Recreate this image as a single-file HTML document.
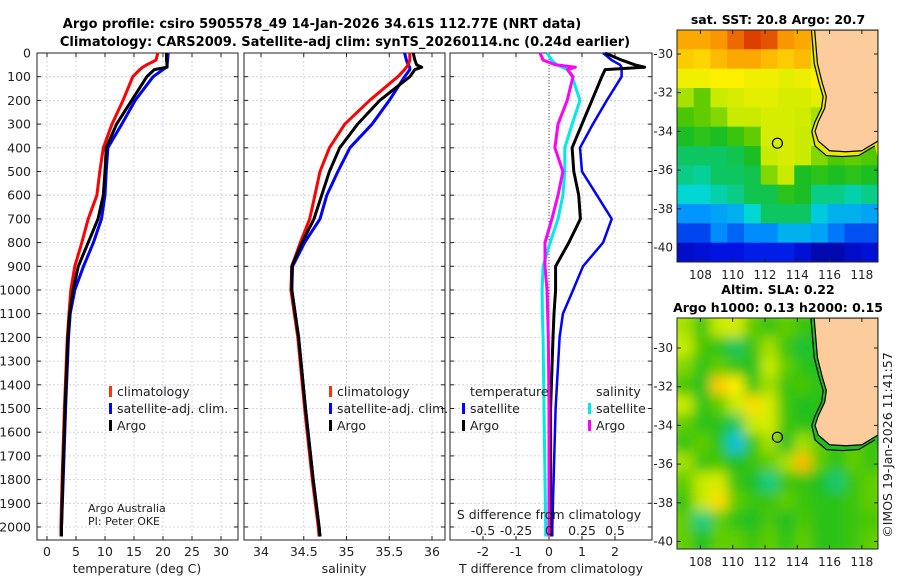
<!DOCTYPE html>
<html><head><meta charset="utf-8"><style>
body{margin:0;background:#fff;}
svg{display:block;font-family:"DejaVu Sans","Liberation Sans",sans-serif;}
</style></head><body>
<svg id="fig" width="900" height="580" viewBox="0 0 900 580" xmlns="http://www.w3.org/2000/svg">
<rect width="900" height="580" fill="#fff"/>
<text x="322" y="28" font-size="13" font-weight="bold" text-anchor="middle">Argo profile: csiro 5905578_49 14-Jan-2026 34.61S 112.77E (NRT data)</text>
<text x="345" y="46" font-size="13" font-weight="bold" text-anchor="middle">Climatology: CARS2009. Satellite-adj clim: synTS_20260114.nc (0.24d earlier)</text>
<g id="layer"></g>
</svg>
<script>
// ---------- data ----------
const depthTicks=[0,100,200,300,400,500,600,700,800,900,1000,1100,1200,1300,1400,1500,1600,1700,1800,1900,2000];
const tTicks=[0,5,10,15,20,25,30];
const sTicks=[34,34.5,35,35.5,36];
const dTicks=[-2,-1,0,1,2];
const sdTicks=[-0.5,-0.25,0,0.25,0.5];
const sdLabels=["-0.5","-0.25","0","0.25","0.5"];
const profDepth=[0,30,50,60,70,100,200,300,400,500,600,700,800,900,1000,1100,1200,1500,1800,2000,2040];
const tClim=[19.1,18.8,17.2,16.5,16.0,14.8,13.1,11.2,9.7,9.1,8.6,7.1,6.0,4.8,4.1,3.8,3.5,3.0,2.6,2.4,2.4];
const tSat=[20.9,20.8,20.7,20.6,20.0,18.3,15.2,12.9,10.5,10.2,10.0,9.4,8.0,6.3,4.8,4.0,3.7,3.2,2.8,2.5,2.5];
const tArgo=[20.6,20.6,20.7,20.7,18.5,17.2,14.6,12.0,10.2,10.0,9.7,8.8,7.1,5.4,4.5,3.9,3.6,3.1,2.7,2.5,2.5];
const sClim=[35.74,35.74,35.72,35.7,35.68,35.6,35.27,34.98,34.8,34.69,34.63,34.57,34.46,34.36,34.35,34.39,34.43,34.51,34.6,34.67,34.68];
const sSat=[35.68,35.7,35.72,35.74,35.74,35.68,35.5,35.3,35.04,34.9,34.77,34.69,34.51,34.37,34.36,34.4,34.44,34.52,34.61,34.68,34.69];
const sArgo=[35.78,35.8,35.82,35.88,35.8,35.74,35.39,35.13,34.92,34.8,34.71,34.62,34.48,34.36,34.36,34.4,34.44,34.52,34.61,34.68,34.69];
const dTSat=[1.64,1.9,2.15,2.2,2.2,2.2,1.75,1.33,0.94,1.0,1.45,1.9,1.64,1.03,0.73,0.42,0.32,0.2,0.14,0.1,0.1];
const dTArgo=[1.7,2.2,2.6,2.9,1.7,1.6,1.3,1.0,0.7,0.75,0.9,0.95,0.6,0.2,0.2,0.15,0.12,0.05,0.05,0.05,0.05];
const dSSat=[-0.015,0.02,0.06,0.1,0.14,0.175,0.235,0.175,0.12,0.12,0.105,0.068,0.008,-0.045,-0.052,-0.05,-0.045,-0.038,-0.03,-0.025,-0.025];
const dSArgo=[-0.068,-0.045,0.05,0.2,0.14,0.182,0.138,0.068,0.045,0.105,0.068,0.022,-0.03,-0.03,-0.015,-0.01,-0.005,0,0,0,0];
const sstGrid=[
[.78,.78,.8,.84,.88,.86,.8,.78,-1,-1,-1,-1],
[.74,.73,.76,.78,.78,.76,.74,.76,-1,-1,-1,-1],
[.68,.68,.7,.7,.68,.68,.66,.67,.7,-1,-1,-1],
[.6,.56,.62,.64,.66,.66,.64,.64,.66,-1,-1,-1],
[.54,.56,.58,.62,.62,.64,.64,.63,.6,-1,-1,-1],
[.48,.5,.48,.52,.56,.64,.64,.62,.62,.6,.62,.62],
[.44,.44,.44,.45,.48,.62,.64,.62,.58,.55,.56,.55],
[.42,.41,.44,.44,.45,.58,.62,.48,.5,.48,.5,.48],
[.38,.38,.4,.42,.45,.45,.5,.48,.42,.42,.4,.42],
[.28,.28,.3,.32,.38,.44,.44,.44,.36,.32,.32,.3],
[.2,.2,.27,.23,.27,.27,.32,.32,.3,.25,.21,.21],
[.1,.12,.14,.14,.16,.16,.16,.12,.06,.06,.1,.12]];
const slaGrid=[
[.6,.52,.62,.64,.56,.52,.56,.52,.5,-1,-1,-1],
[.62,.54,.5,.44,.52,.6,.52,.46,.5,-1,-1,-1],
[.58,.5,.56,.52,.48,.62,.56,.5,.48,-1,-1,-1],
[.54,.48,.74,.7,.52,.6,.52,.54,.5,-1,-1,-1],
[.62,.5,.56,.62,.72,.64,.52,.48,.5,-1,-1,-1],
[.56,.5,.5,.44,.62,.64,.52,.5,.48,.48,.5,.5],
[.52,.56,.5,.35,.52,.6,.48,.6,.56,.5,.56,.52],
[.6,.52,.54,.48,.52,.56,.6,.76,.56,.5,.56,.52],
[.56,.62,.64,.52,.48,.42,.52,.52,.48,.43,.52,.56],
[.52,.62,.72,.56,.52,.52,.56,.52,.5,.5,.52,.56],
[.56,.42,.56,.5,.48,.54,.48,.54,.5,.5,.52,.54],
[.56,.48,.56,.56,.52,.56,.5,.56,.5,.5,.52,.56]];
const lonTicks=[108,110,112,114,116,118];
const latTicks=[-30,-32,-34,-36,-38,-40];
const floatLon=[112.77], floatLat=[-34.61];

// ---------- geometry ----------
const NS="http://www.w3.org/2000/svg";
const L=document.getElementById('layer');
function el(tag,attrs,parent){const e=document.createElementNS(NS,tag);for(const k in attrs)e.setAttribute(k,attrs[k]);(parent||L).appendChild(e);return e;}
function txt(x,y,s,attrs,parent){const e=el('text',Object.assign({x:x,y:y,'font-size':12.5,fill:'#222'},attrs||{}),parent);e.textContent=s;return e;}
const Y0=53, PXM=0.237, TOP=53, BOT=540;
const yD=d=>Y0+d*PXM;
const panels=[
 {x0:37,x1:238,sx:v=>47+5.8*v,ticks:tTicks,name:'temperature-panel'},
 {x0:244,x1:445,sx:v=>261+85.5*(v-34),ticks:sTicks,name:'salinity-panel'},
 {x0:450,x1:652,sx:v=>549+33*v,ticks:dTicks,name:'difference-panel'}];
const sdx=v=>549+132*v;

panels.forEach((p,pi)=>{
 const g=el('g',{});
 
 
 depthTicks.forEach(d=>{el('line',{x1:p.x0,x2:p.x1,y1:yD(d),y2:yD(d),stroke:'#c6c8ec','stroke-width':0.8,'stroke-dasharray':'2,2'},g);
  el('line',{x1:p.x0,x2:p.x0+4,y1:yD(d),y2:yD(d),stroke:'#222'},g);el('line',{x1:p.x1-4,x2:p.x1,y1:yD(d),y2:yD(d),stroke:'#222'},g);});
 p.ticks.forEach(t=>{const x=p.sx(t);el('line',{x1:x,x2:x,y1:TOP,y2:BOT,stroke:'#c6c8ec','stroke-width':0.8,'stroke-dasharray':'2,2'},g);
  el('line',{x1:x,x2:x,y1:BOT,y2:BOT-4,stroke:'#222'},g);el('line',{x1:x,x2:x,y1:TOP,y2:TOP+4,stroke:'#222'},g);
  const lb=txt(x,556,String(t),{'text-anchor':'middle'},g);});
 el('rect',{x:p.x0,y:TOP,width:p.x1-p.x0,height:BOT-TOP,fill:'none',stroke:'#222','stroke-width':1},g);
});
depthTicks.forEach(d=>{const t=txt(31,yD(d)+4.5,String(d),{'text-anchor':'end'});});
el('line',{x1:549,x2:549,y1:TOP,y2:BOT,stroke:'#445','stroke-width':1,'stroke-dasharray':'1,2'});

function line(xs,xf,color,w,name){
 const pts=profDepth.map((d,i)=>xf(xs[i]).toFixed(1)+','+yD(d).toFixed(1)).join(' ');
 const e=el('polyline',{points:pts,fill:'none',stroke:color,'stroke-width':w,'stroke-linejoin':'round'});
 }
const p1=panels[0].sx,p2=panels[1].sx,p3=panels[2].sx;
line(tSat,p1,'#0000ff',3,'temp-satellite-line');line(tClim,p1,'#ff0000',3,'temp-climatology-line');line(tArgo,p1,'#000',3,'temp-argo-line');
line(sSat,p2,'#0000ff',3,'sal-satellite-line');line(sClim,p2,'#ff0000',3,'sal-climatology-line');line(sArgo,p2,'#000',3,'sal-argo-line');
line(dTSat,p3,'#0000ff',2.5,'dt-satellite-line');line(dTArgo,p3,'#000',3,'dt-argo-line');
line(dSSat,sdx,'#00e8e8',3,'ds-satellite-line');line(dSArgo,sdx,'#ff00ff',3,'ds-argo-line');

[['temperature (deg C)',137,'x-axis-title-temp'],['salinity',344,'x-axis-title-sal'],['T difference from climatology',551,'x-axis-title-tdiff']].forEach(a=>{const t=txt(a[1],573,a[0],{'text-anchor':'middle'});});
let t=txt(549,519,'S difference from climatology',{'text-anchor':'middle'});
sdTicks.forEach((v,i)=>{const tt=txt(sdx(v),535,sdLabels[i],{'text-anchor':'middle'});});

function leg(x,y,color,label,name){const g=el('g',{});
 el('rect',{x:x,y:y-10,width:3,height:11,fill:color},g);txt(x+8,y,label,{},g);}
leg(109,396,'#ff3300','climatology','legend-climatology');leg(109,413,'#0000ff','satellite-adj. clim.','legend-satellite-adj');leg(109,430,'#000','Argo','legend-argo');
leg(329,396,'#ff3300','climatology','legend2-climatology');leg(329,413,'#0000ff','satellite-adj. clim.','legend2-satellite-adj');leg(329,430,'#000','Argo','legend2-argo');
t=txt(470,396,'temperature');
t=txt(596,396,'salinity');
leg(462,413,'#0000ff','satellite','legend-t-satellite');leg(462,430,'#000','Argo','legend-t-argo');
leg(588,413,'#00e8e8','satellite','legend-s-satellite');leg(588,430,'#ff00ff','Argo','legend-s-argo');
t=txt(88,512,'Argo Australia',{'font-size':11});
t=txt(88,525,'PI: Peter OKE',{'font-size':11});

// ---------- maps ----------
const cmapStops=[[0,[0,0,140]],[0.15,[0,20,230]],[0.28,[0,150,255]],[0.38,[0,215,210]],[0.47,[20,190,40]],[0.55,[80,200,0]],[0.62,[200,235,0]],[0.7,[255,240,0]],[0.8,[250,150,0]],[0.9,[215,40,0]],[1,[130,0,0]]];
function cmap(v){v=Math.max(0,Math.min(1,v));for(let i=1;i<cmapStops.length;i++){const a=cmapStops[i-1],b=cmapStops[i];if(v<=b[0]){const f=(v-a[0])/(b[0]-a[0]);return 'rgb('+a[1].map((c,k)=>Math.round(c+(b[1][k]-c)*f)).join(',')+')';}}return 'rgb(130,0,0)';}
function drawMap(y0,y1,lat30,grid,title,name,blur,id){
 const x0=677,x1=878,lonL=106.55,lonR=119.0;
 const mx=lon=>677+(lon-lonL)*(x1-x0)/(lonR-lonL);
 const my=lat=>lat30+(-30-lat)*19.35;
 const g=el('g',{});
 const cp=el('clipPath',{id:id+'c'},g);el('rect',{x:x0,y:y0,width:x1-x0,height:y1-y0},cp);
 if(blur){const f=el('filter',{id:id+'f',x:'-10%',y:'-10%',width:'120%',height:'120%'},g);el('feGaussianBlur',{stdDeviation:6},f);}
 const cg=el('g',{'clip-path':`url(#${id}c)`},g);
 const hg=el('g',blur?{filter:`url(#${id}f)`}:{},cg);
 const rows=grid.length,cols=grid[0].length,cw=(x1-x0)/cols,ch=(y1-y0)/rows;
 grid.forEach((row,r)=>row.forEach((v,c)=>{const vv=v<0?(blur?0.5:0.64):v;
   const e=el('rect',{x:x0+c*cw-(blur?8:0)*(c==0),y:y0+r*ch-(blur?8:0)*(r==0),width:cw+0.6+(blur?8:0)*(c==0||c==cols-1),height:ch+0.6+(blur?8:0)*(r==0||r==rows-1),fill:cmap(vv)},hg);
   }));
 const coast=[[115.0,-28],[115.25,-30.5],[115.55,-31.5],[115.8,-32.2],[115.7,-32.8],[115.3,-33.5],[115.1,-34.0],[115.3,-34.5],[116.0,-35.0],[117.0,-35.05],[118.0,-35.0],[119.0,-34.5]];
 const band=coast.map(p=>[p[0]-0.2,p[1]-0.25*(p[1]<-34.3?1:0)]);
 el('polygon',{points:band.map(p=>mx(p[0])+','+my(p[1])).join(' ')+` ${x1},${my(-35.4)} ${x1},${y0}`,fill:blur?'#22bb22':'#e8e800'},cg);
 const land=el('polygon',{points:coast.map(p=>mx(p[0])+','+my(p[1])).join(' ')+` ${x1},${y0} ${mx(115)},${y0}`,fill:'#fccc9c',stroke:'#000','stroke-width':1.2},cg);
 
 el('polyline',{points:band.map(p=>mx(p[0])+','+my(p[1])).join(' '),fill:'none',stroke:'#000','stroke-width':1.2},cg);
 floatLon.forEach((lo,i)=>{const c=el('circle',{cx:mx(lo),cy:my(floatLat[i]),r:5,fill:'none',stroke:'#000','stroke-width':1.2},g);});
 el('rect',{x:x0,y:y0,width:x1-x0,height:y1-y0,fill:'none',stroke:'#222'},g);
 lonTicks.forEach(l=>{const x=mx(l);el('line',{x1:x,x2:x,y1:y1,y2:y1-4,stroke:'#222'},g);el('line',{x1:x,x2:x,y1:y0,y2:y0+4,stroke:'#222'},g);
  const tt=txt(x,y1+17,String(l),{'text-anchor':'middle','font-size':12},g);});
 latTicks.forEach(l=>{const y=my(l);el('line',{x1:x0,x2:x0+4,y1:y,y2:y,stroke:'#222'},g);el('line',{x1:x1-4,x2:x1,y1:y,y2:y,stroke:'#222'},g);
  const tt=txt(x0-4,y+4,String(l),{'text-anchor':'end','font-size':12},g);});
 title.forEach((s,i)=>{const tt=txt(778,y0-6-(title.length-1-i)*18,s,{'text-anchor':'middle','font-weight':'bold','font-size':12.5,fill:'#000'},g);});
}
drawMap(30,262,54,sstGrid,['sat. SST: 20.8 Argo: 20.7'],'sst-map',false,'m1');
drawMap(318,549,348,slaGrid,['Altim. SLA: 0.22','Argo h1000: 0.13 h2000: 0.15'],'sla-map',true,'m2');
t=txt(0,0,'©IMOS 19-Jan-2026 11:41:57',{'text-anchor':'middle','font-size':12.5,transform:'translate(892,445) rotate(-90)'});

</script>
</body></html>
